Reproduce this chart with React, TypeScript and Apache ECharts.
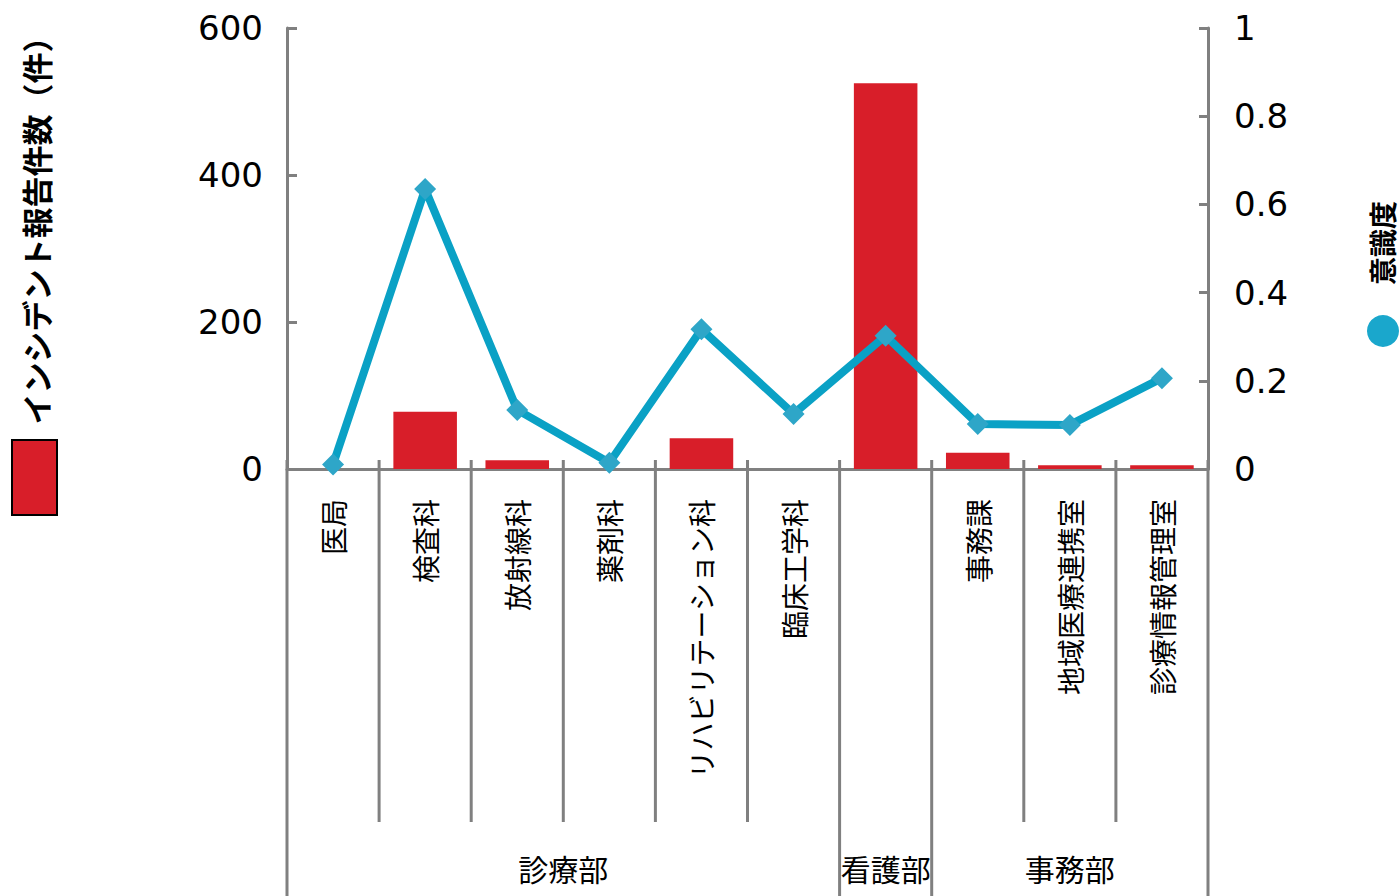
import React, { useEffect, useRef } from "react";
import * as echarts from "echarts";

// Departments (lower level of the category axis)
const categories = [
  "医局",
  "検査科",
  "放射線科",
  "薬剤科",
  "リハビリテーション科",
  "臨床工学科",
  "",
  "事務課",
  "地域医療連携室",
  "診療情報管理室",
];

// Department groups (upper level): name, first index, last index + 1
const groups: [string, number, number][] = [
  ["診療部", 0, 6],
  ["看護部", 6, 7],
  ["事務部", 7, 10],
];

// インシデント報告件数（件）
const incidentCounts = [0, 78, 12, 0, 42, 0, 525, 22, 5, 5];

// 意識度
const awarenessScores = [0.01, 0.635, 0.134, 0.014, 0.317, 0.125, 0.302, 0.102, 0.1, 0.206];

const leftTicks = { min: 0, max: 600, interval: 200 };
const rightTicks = { min: 0, max: 1, interval: 0.2 };

const GRID = { left: 287, right: 192, top: 28, bottom: 427 };
const W = 1400;
const H = 896;
const AXIS_GREY = "#808080";
const BAR_RED = "#d81e29";
const LINE_BLUE = "#0aa1c5";
const NUM_FONT = "DejaVu Sans";
const JP_FONT = "Noto Sans CJK JP";

export default function App() {
  const ref = useRef<HTMLDivElement>(null);

  useEffect(() => {
    if (!ref.current) return;
    const chart = echarts.init(ref.current, null, { renderer: "svg" });

    const plotW = W - GRID.left - GRID.right;
    const axisY = H - GRID.bottom;
    const catW = plotW / categories.length;
    const edgeX = (k: number) => GRID.left + k * catW;

    // category boundaries: group edges run to the bottom, the rest stop above the group row
    const groupEdges = new Set(groups.flatMap((g) => [g[1], g[2]]));
    const dividers = Array.from({ length: categories.length + 1 }, (_, k) => ({
      type: "line",
      shape: {
        x1: edgeX(k),
        y1: axisY - 9,
        x2: edgeX(k),
        y2: groupEdges.has(k) ? H : 822,
      },
      style: { stroke: AXIS_GREY, lineWidth: 3 },
      silent: true,
    }));
    const groupLabels = groups.map(([name, a, b]) => ({
      type: "text",
      x: (edgeX(a) + edgeX(b)) / 2,
      y: 868,
      style: {
        text: name,
        fontSize: 30,
        fontFamily: JP_FONT,
        fill: "#000",
        align: "center",
        verticalAlign: "middle",
      },
    }));

    const option: any = {
      animation: false,
      backgroundColor: "#fff",
      grid: GRID,
      xAxis: {
        type: "category",
        data: categories,
        axisLine: { lineStyle: { color: AXIS_GREY, width: 3 } },
        axisTick: { show: false },
        axisLabel: {
          interval: 0,
          rotate: 90,
          margin: 30,
          fontSize: 28,
          fontFamily: JP_FONT,
          color: "#000",
        },
        splitLine: { show: false },
      },
      yAxis: [
        {
          type: "value",
          ...leftTicks,
          axisLine: { show: true, lineStyle: { color: AXIS_GREY, width: 3 } },
          axisTick: { show: true, inside: true, length: 10, lineStyle: { color: AXIS_GREY, width: 3 } },
          axisLabel: { fontSize: 34, fontFamily: NUM_FONT, color: "#000", margin: 24 },
          splitLine: { show: false },
        },
        {
          type: "value",
          ...rightTicks,
          position: "right",
          axisLine: { show: true, lineStyle: { color: AXIS_GREY, width: 3 } },
          axisTick: { show: true, inside: true, length: 9, lineStyle: { color: AXIS_GREY, width: 3 } },
          axisLabel: { fontSize: 34, fontFamily: NUM_FONT, color: "#000", margin: 26 },
          splitLine: { show: false },
        },
      ],
      series: [
        {
          name: "インシデント報告件数（件）",
          type: "bar",
          data: incidentCounts,
          yAxisIndex: 0,
          barWidth: "69%",
          itemStyle: { color: BAR_RED },
        },
        {
          name: "意識度",
          type: "line",
          data: awarenessScores,
          yAxisIndex: 1,
          symbol: "diamond",
          symbolSize: 22,
          lineStyle: { color: LINE_BLUE, width: 8 },
          itemStyle: { color: "#2ea6c8" },
        },
      ],
      graphic: [
        ...dividers,
        ...groupLabels,
        // legend key: bars
        {
          type: "rect",
          shape: { x: 12, y: 440, width: 45, height: 75 },
          style: { fill: BAR_RED, stroke: "#000", lineWidth: 2 },
        },
        {
          type: "text",
          x: 35,
          y: 223,
          rotation: Math.PI / 2,
          style: {
            text: "インシデント報告件数（件）",
            fontSize: 31,
            fontWeight: "bold",
            fontFamily: JP_FONT,
            fill: "#000",
            align: "center",
            verticalAlign: "middle",
          },
        },
        // legend key: line
        {
          type: "text",
          x: 1382,
          y: 243,
          rotation: Math.PI / 2,
          style: {
            text: "意識度",
            fontSize: 28,
            fontWeight: "bold",
            fontFamily: JP_FONT,
            fill: "#000",
            align: "center",
            verticalAlign: "middle",
          },
        },
        {
          type: "circle",
          shape: { cx: 1383, cy: 331, r: 16 },
          style: { fill: "#1aa7cc" },
        },
      ],
    };

    chart.setOption(option);
    return () => chart.dispose();
  }, []);

  return (
    <div
      ref={ref}
      style={{ position: "fixed", left: 0, top: 0, width: W, height: H, background: "#fff" }}
    />
  );
}
